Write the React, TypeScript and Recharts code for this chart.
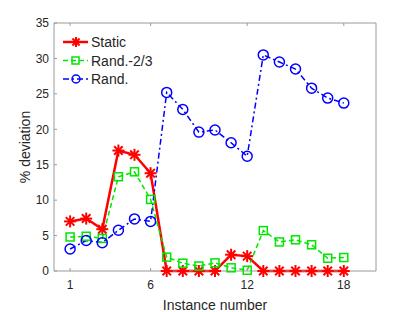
import { LineChart, Line, XAxis, YAxis, Legend } from "recharts";

const instances = [1, 2, 3, 4, 5, 6, 7, 8, 9, 10, 11, 12, 13, 14, 15, 16, 17, 18];
const staticDev = [7.0, 7.4, 5.9, 17.0, 16.4, 13.8, 0, 0, 0, 0, 2.3, 2.1, 0, 0, 0, 0, 0, 0];
const rand23Dev = [4.8, 4.9, 4.6, 13.3, 14.0, 10.1, 1.95, 1.1, 0.7, 1.15, 0.45, 0.1, 5.7, 4.1, 4.4, 3.7, 1.8, 1.9];
const randDev = [3.1, 4.3, 4.0, 5.75, 7.35, 7.0, 25.2, 22.8, 19.6, 19.9, 18.1, 16.2, 30.5, 29.5, 28.5, 25.8, 24.4, 23.7];

const xTicks = [1, 6, 12, 18];
const yTicks = [0, 5, 10, 15, 20, 25, 30, 35];

const data = instances.map((x, i) => ({
  x,
  stat: staticDev[i],
  rand23: rand23Dev[i],
  rand: randDev[i],
}));

const FONT = "'Liberation Sans', Arial, sans-serif";
const AXIS = "#9a9a9a";
const TEXT = "#262626";
const RED = "#ff0000";
const GREEN = "#00e600";
const BLUE = "#0000ff";

function star(cx: number, cy: number, r: number, key?: any) {
  const d = r * 0.707;
  return (
    <g key={key} stroke={RED} strokeWidth={2}>
      <line x1={cx - r} y1={cy} x2={cx + r} y2={cy} />
      <line x1={cx} y1={cy - r} x2={cx} y2={cy + r} />
      <line x1={cx - d} y1={cy - d} x2={cx + d} y2={cy + d} />
      <line x1={cx - d} y1={cy + d} x2={cx + d} y2={cy - d} />
    </g>
  );
}

const StarDot = (p: any) => star(p.cx, p.cy, 6, p.index);
const SquareDot = (p: any) => (
  <rect key={p.index} x={p.cx - 4} y={p.cy - 4} width={8} height={8} fill="none" stroke={GREEN} strokeWidth={1.5} />
);
const CircleDot = (p: any) => (
  <circle key={p.index} cx={p.cx} cy={p.cy} r={5} fill="none" stroke={BLUE} strokeWidth={1.5} />
);

const legendRows = [
  { name: "Static", color: RED, dash: undefined, width: 2.5 },
  { name: "Rand.-2/3", color: GREEN, dash: "5 3", width: 1.5 },
  { name: "Rand.", color: BLUE, dash: "6 3 2 3", width: 1.5 },
];

const LegendBox = () => (
  <svg width={110} height={58}>
    {legendRows.map((r, i) => {
      const y = 9 + i * 18.5;
      return (
        <g key={r.name}>
          <line x1={2} x2={27} y1={y} y2={y} stroke={r.color} strokeWidth={r.width} strokeDasharray={r.dash} />
          {i === 0 && star(15, y, 5)}
          {i === 1 && <rect x={11} y={y - 3.5} width={7} height={7} fill="none" stroke={GREEN} strokeWidth={1.5} />}
          {i === 2 && <circle cx={15} cy={y} r={4} fill="none" stroke={BLUE} strokeWidth={1.5} />}
          <text x={30} y={y + 5} fontSize={14} fill={TEXT} fontFamily={FONT}>
            {r.name}
          </text>
        </g>
      );
    })}
  </svg>
);

export default function App() {
  const tickStyle = { fontSize: 12, fill: TEXT, fontFamily: FONT };
  return (
    <div style={{ margin: "-8px 0 0 -8px", width: 415, height: 312, background: "#fff" }}>
      <LineChart width={415} height={312} data={data} margin={{ top: 22, right: 38, bottom: 0, left: 0 }}>
        <XAxis
          dataKey="x"
          type="number"
          domain={[0, 20]}
          ticks={xTicks}
          stroke={AXIS}
          tickSize={-3}
          tickMargin={12}
          tick={tickStyle}
          height={41}
          label={{ value: "Instance number", position: "insideBottom", offset: 2, fontSize: 14, fill: TEXT, fontFamily: FONT }}
        />
        <XAxis
          xAxisId="top"
          dataKey="x"
          type="number"
          orientation="top"
          domain={[0, 20]}
          ticks={xTicks}
          stroke={AXIS}
          tickSize={-3}
          tickFormatter={() => ""}
          height={1}
        />
        <YAxis
          type="number"
          domain={[0, 35]}
          ticks={yTicks}
          stroke={AXIS}
          tickSize={-3}
          tickMargin={8}
          tick={tickStyle}
          width={54}
          label={{ value: "% deviation", angle: -90, position: "insideLeft", offset: 25, fontSize: 14, fill: TEXT, fontFamily: FONT, style: { textAnchor: "middle" } }}
        />
        <YAxis
          yAxisId="right"
          orientation="right"
          type="number"
          domain={[0, 35]}
          ticks={yTicks}
          stroke={AXIS}
          tickSize={-3}
          tickFormatter={() => ""}
          width={1}
        />
        <Legend
          layout="vertical"
          verticalAlign="middle"
          align="center"
          wrapperStyle={{ top: 33, left: 61, width: 110 }}
          content={() => <LegendBox />}
        />
        <Line
          dataKey="stat"
          stroke={RED}
          strokeWidth={2.5}
          dot={StarDot}
          isAnimationActive={false}
        />
        <Line
          dataKey="rand23"
          stroke={GREEN}
          strokeWidth={1.5}
          strokeDasharray="5 3"
          dot={SquareDot}
          isAnimationActive={false}
        />
        <Line
          dataKey="rand"
          stroke={BLUE}
          strokeWidth={1.5}
          strokeDasharray="6 3 2 3"
          dot={CircleDot}
          isAnimationActive={false}
        />
      </LineChart>
    </div>
  );
}
